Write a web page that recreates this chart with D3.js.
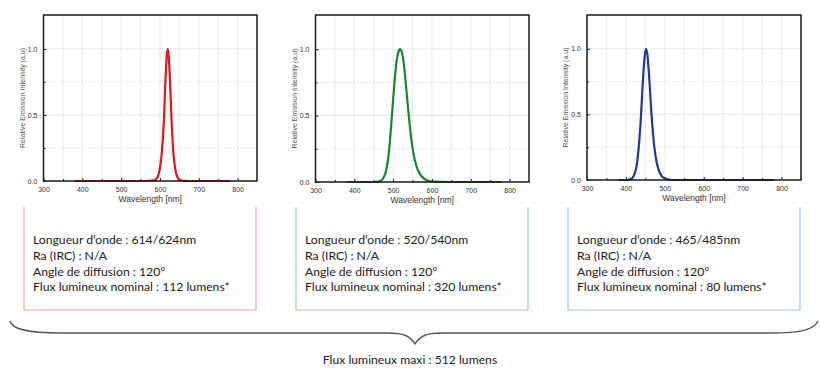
<html>
<head>
<meta charset="utf-8">
<title>Spectres LED</title>
<script src="https://cdn.jsdelivr.net/npm/d3@7/dist/d3.min.js"></script>
<style>
  body { margin: 0; background: #fff; }
  svg { display: block; }
  .tick text { font-family: "Liberation Sans", Arial, sans-serif; }
</style>
</head>
<body>
<svg id="svg" width="820" height="374"></svg>
<script>
var redSpectrum = [[380,0],[560,0],[585,0.005],[592,0.02],[600,0.1],[605,0.22],[610,0.45],[614,0.75],[617,0.93],[620,1.0],[623,0.93],[626,0.75],[630,0.45],[635,0.2],[640,0.08],[645,0.03],[650,0.01],[660,0.002],[680,0],[780,0]];
var greenSpectrum = [[380,0],[450,0],[465,0.005],[475,0.03],[483,0.1],[490,0.25],[495,0.43],[500,0.62],[505,0.8],[510,0.93],[515,0.99],[518,1.0],[522,0.98],[527,0.9],[532,0.76],[537,0.6],[542,0.45],[547,0.32],[552,0.22],[560,0.12],[570,0.055],[580,0.025],[590,0.01],[600,0.004],[620,0.001],[650,0],[780,0]];
var blueSpectrum = [[380,0],[400,0],[412,0.005],[420,0.03],[427,0.1],[433,0.25],[438,0.45],[443,0.72],[447,0.9],[451,1.0],[455,0.96],[459,0.82],[463,0.63],[467,0.45],[472,0.28],[478,0.15],[485,0.07],[492,0.03],[500,0.012],[510,0.004],[530,0],[780,0]];

var xMajorTicks = [300, 400, 500, 600, 700, 800];
var xMinorTicks = [350, 450, 550, 650, 750];
var yMajorTicks = [0.0, 0.5, 1.0];
var yMinorTicks = [0.25, 0.75];

var redLines = ["Longueur d\u2019onde : 614/624nm", "Ra (IRC) : N/A", "Angle de diffusion : 120\u00b0", "Flux lumineux nominal : 112 lumens*"];
var greenLines = ["Longueur d\u2019onde : 520/540nm", "Ra (IRC) : N/A", "Angle de diffusion : 120\u00b0", "Flux lumineux nominal : 320 lumens*"];
var blueLines = ["Longueur d\u2019onde : 465/485nm", "Ra (IRC) : N/A", "Angle de diffusion : 120\u00b0", "Flux lumineux nominal : 80 lumens*"];
var totalLabel = "Flux lumineux maxi : 512 lumens";

var svg = d3.select("#svg");

var panels = [
  { data: redSpectrum, color: "#e5151c", box: "#f5a3a6", lines: redLines, left: 43.5, right: 257, top: 15, bottom: 181, boxL: 24, boxR: 256 },
  { data: greenSpectrum, color: "#19862f", box: "#93d9a6", lines: greenLines, left: 315.5, right: 529, top: 15, bottom: 182, boxL: 296, boxR: 528 },
  { data: blueSpectrum, color: "#22399c", box: "#a2c6e8", lines: blueLines, left: 587, right: 801, top: 15, bottom: 180, boxL: 568, boxR: 800 }
];

function drawPanel(p) {
  var x = d3.scaleLinear().domain([300, 850]).range([p.left, p.right]);
  var y = d3.scaleLinear().domain([0, 1.257]).range([p.bottom, p.top]);
  var g = svg.append("g");

  // grid
  g.selectAll(".vgrid").data(xMajorTicks.concat(xMinorTicks).filter(function(d){ return d > 300; })).enter()
    .append("line")
    .attr("x1", function(d){ return x(d); }).attr("x2", function(d){ return x(d); })
    .attr("y1", p.top).attr("y2", p.bottom)
    .style("stroke", "#e8e8e8").style("stroke-width", 0.8);
  g.selectAll(".hgrid").data(yMajorTicks.concat(yMinorTicks).filter(function(d){ return d > 0; })).enter()
    .append("line")
    .attr("x1", p.left).attr("x2", p.right)
    .attr("y1", function(d){ return y(d); }).attr("y2", function(d){ return y(d); })
    .style("stroke", function(d){ return (d == 0.5 || d == 1) ? "#e2e2e2" : "#f0f0f0"; })
    .style("stroke-width", 0.8);

  // axes with inward ticks
  g.append("g").attr("transform", "translate(0," + p.bottom + ")")
    .call(d3.axisBottom(x).tickValues(xMajorTicks).tickSizeInner(-3).tickSizeOuter(0).tickPadding(6));
  g.append("g").attr("transform", "translate(0," + p.bottom + ")")
    .call(d3.axisBottom(x).tickValues(xMinorTicks).tickSizeInner(-2).tickSizeOuter(0).tickFormat(""));
  g.append("g").attr("transform", "translate(" + p.left + ",0)")
    .call(d3.axisLeft(y).tickValues(yMajorTicks).tickSizeInner(-3).tickSizeOuter(0).tickPadding(6).tickFormat(d3.format(".1f")));
  g.append("g").attr("transform", "translate(" + p.left + ",0)")
    .call(d3.axisLeft(y).tickValues(yMinorTicks).tickSizeInner(-2).tickSizeOuter(0).tickFormat(""));
  g.selectAll(".domain").remove();
  g.selectAll(".tick line").style("stroke", "#222");
  g.selectAll(".tick text").style("font-size", "7px").style("fill", "#333");

  // spectrum
  var line = d3.line().x(function(d){ return x(d[0]); }).y(function(d){ return y(d[1]); }).curve(d3.curveMonotoneX);
  g.append("path").datum(p.data)
    .attr("d", line)
    .attr("fill", "none")
    .attr("stroke", p.color)
    .attr("stroke-width", 2.2);

  // frame
  g.append("rect")
    .attr("x", p.left).attr("y", p.top)
    .attr("width", p.right - p.left).attr("height", p.bottom - p.top)
    .attr("fill", "none").attr("stroke", "#1a1a1a").attr("stroke-width", 1.5);

  // titles
  g.append("text")
    .text("Wavelength [nm]")
    .attr("x", (p.left + p.right) / 2).attr("y", p.bottom + 21)
    .attr("text-anchor", "middle")
    .attr("font-family", "Liberation Sans, Arial, sans-serif")
    .attr("font-size", "8.5")
    .attr("fill", "#333");
  var ly = (p.top + p.bottom) / 2, lx = p.left - 19;
  g.append("text")
    .text("Relative Emission Intensity (a.u)")
    .attr("x", lx).attr("y", ly)
    .attr("text-anchor", "middle")
    .attr("font-family", "Liberation Sans, Arial, sans-serif")
    .attr("font-size", "7")
    .attr("fill", "#555");

  // info box, open at the top
  var boxTop = 207, boxBottom = 310;
  g.append("path")
    .attr("d", "M" + p.boxL + "," + boxTop + "V" + boxBottom + "H" + p.boxR + "V" + boxTop)
    .attr("fill", "none").attr("stroke", p.box).attr("stroke-width", 1.2);
  g.selectAll(".info").data(p.lines).enter()
    .append("text")
    .text(function(d){ return d; })
    .attr("x", p.boxL + 9)
    .attr("y", function(d, i){ return 244 + i * 15.8; })
    .attr("font-family", "Lato, sans-serif")
    .attr("font-size", "12.2")
    .attr("fill", "#222");

  g.selectAll("text").filter(function(){ return this.textContent.indexOf("Relative") == 0; })
    .attr("transform", "rotate(-90 " + lx + " " + ly + ")");
}

panels.forEach(drawPanel);

// brace spanning all three boxes
svg.append("path")
  .attr("d", "M10,321 C12,330 30,333 60,333 L388,333 C404,333 410,336 415,344 C420,336 426,333 442,333 L770,333 C800,333 814,330 818,321")
  .attr("fill", "none").attr("stroke", "#555").attr("stroke-width", 1.4);

svg.append("text")
  .text(totalLabel)
  .attr("x", 410).attr("y", 364)
  .attr("text-anchor", "middle")
  .attr("font-family", "Lato, sans-serif")
  .attr("font-size", "12.2")
  .attr("fill", "#222");
</script>
</body>
</html>
